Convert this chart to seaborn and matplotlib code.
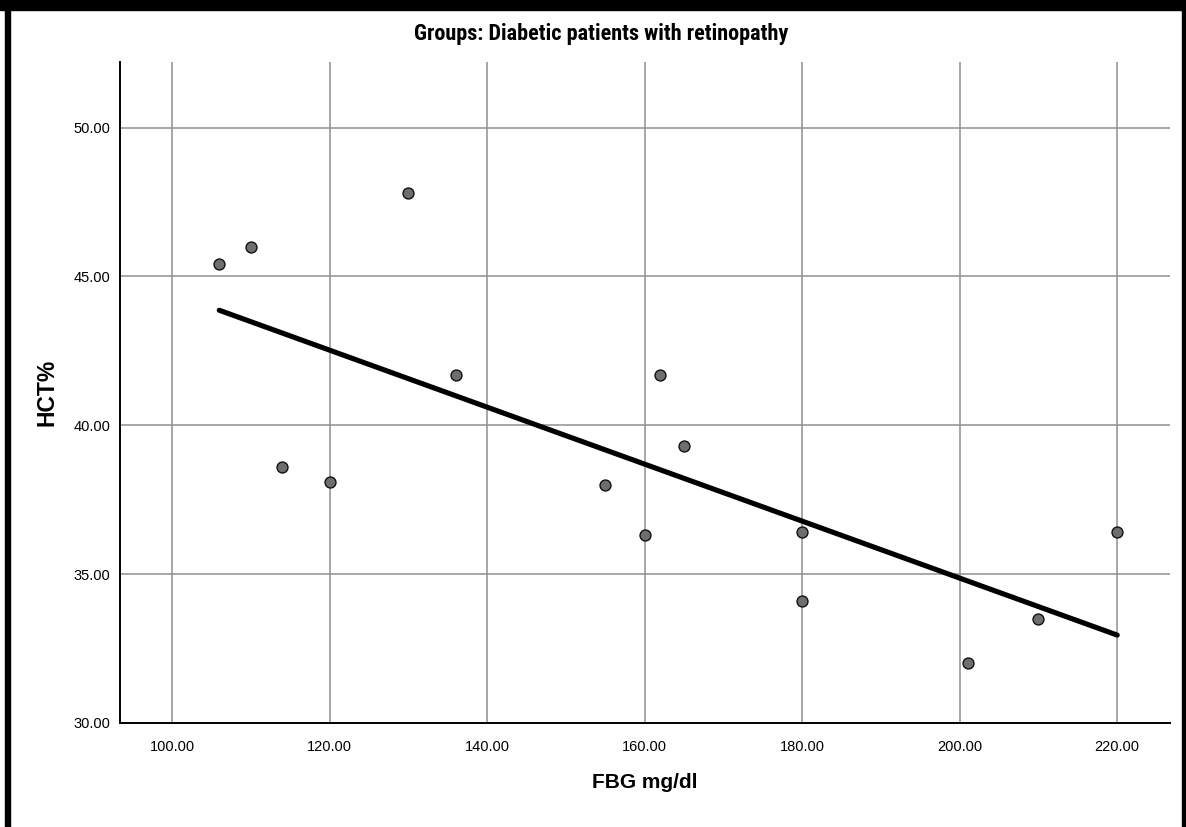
import numpy as np
import pandas as pd
import matplotlib
matplotlib.use('Agg')
import matplotlib.pyplot as plt
import seaborn as sns
from matplotlib.patches import Rectangle
from matplotlib import font_manager

# values
fbg = [106, 110, 114, 120, 130, 136, 155, 160, 162, 165, 180, 180, 201, 210, 220]
hct = [45.4, 46.0, 38.6, 38.1, 47.8, 41.7, 38.0, 36.3, 41.7, 39.3, 36.4, 34.1, 32.0, 33.5, 36.4]
x_ticks = [100, 120, 140, 160, 180, 200, 220]
y_ticks = [30, 35, 40, 45, 50]

df = pd.DataFrame({'FBG mg/dl': fbg, 'HCT%': hct})

sns.set_style('white')
plt.rcParams['font.family'] = ['Liberation Sans', 'DejaVu Sans']
plt.rcParams['text.color'] = 'black'
plt.rcParams['axes.labelcolor'] = 'black'

# a narrow face for the title if one is around
names = {f.name for f in font_manager.fontManager.ttflist}
narrow = [n for n in ['Liberation Sans Narrow', 'DejaVu Sans Condensed', 'Roboto Condensed'] if n in names]
title_family = narrow[:1] + ['DejaVu Sans']

fig = plt.figure(figsize=(11.86, 8.27), dpi=100)
ax = fig.add_axes([120 / 1186, 1 - 723 / 827, 1050 / 1186, 661 / 827])

ax.set_axisbelow(True)
ax.grid(True, color='#8f8f8f', linewidth=1.1)

sns.regplot(data=df, x='FBG mg/dl', y='HCT%', ax=ax, ci=None,
            scatter_kws=dict(s=62, color='#6e6e6e', edgecolors='#111111',
                             linewidths=1.0, alpha=1, zorder=3),
            line_kws=dict(color='black', linewidth=3.7, zorder=4))

ax.set_xlim(93.4, 226.7)
ax.set_ylim(30, 52.2)
ax.set_xticks(x_ticks)
ax.set_yticks(y_ticks)
ax.set_xticklabels([f'{v:.2f}' for v in x_ticks])
ax.set_yticklabels([f'{v:.2f}' for v in y_ticks])
ax.tick_params(length=0, labelsize=10.5, colors='black')
ax.tick_params(axis='x', pad=12)
ax.tick_params(axis='y', pad=7)

for side in ['top', 'right']:
    ax.spines[side].set_visible(False)
for side in ['left', 'bottom']:
    ax.spines[side].set_color('black')
    ax.spines[side].set_linewidth(1.4)

ax.set_xlabel('FBG mg/dl', fontsize=15, fontweight='bold', labelpad=14)
ax.set_ylabel('HCT%', fontsize=16.5, fontweight='bold', labelpad=11)

fig.text(601 / 1186, 1 - 34 / 827, 'Groups: Diabetic patients with retinopathy',
         ha='center', va='center', fontsize=16, fontweight='bold',
         fontstretch='condensed', family=title_family)

# black frame around the picture (no bottom edge)
fig.patches.append(Rectangle((0, 1 - 10 / 827), 1, 10 / 827, transform=fig.transFigure,
                             color='black', zorder=10))
fig.patches.append(Rectangle((5 / 1186, 0), 5 / 1186, 1, transform=fig.transFigure,
                             color='black', zorder=10))
fig.patches.append(Rectangle((1182 / 1186, 0), 4 / 1186, 1, transform=fig.transFigure,
                             color='black', zorder=10))

fig.savefig('out.png', dpi=100)
